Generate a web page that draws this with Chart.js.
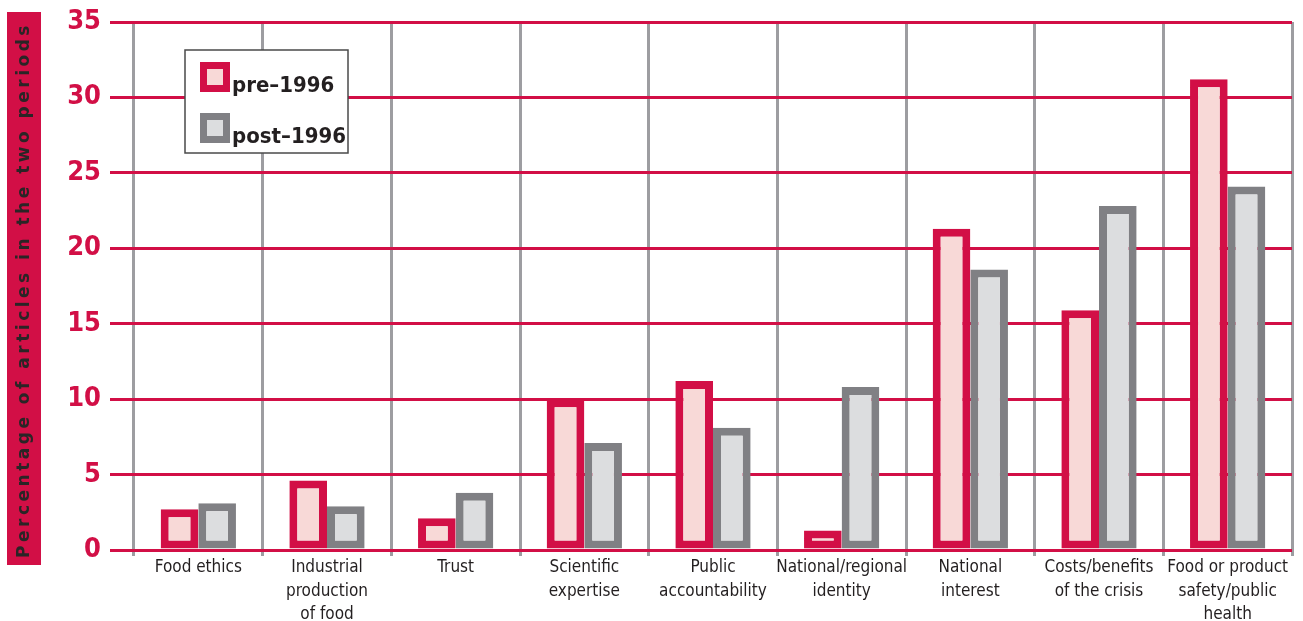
<!DOCTYPE html>
<html>
<head>
<meta charset="utf-8">
<script src="https://cdn.jsdelivr.net/npm/chart.js@4"></script>
<style>
    html, body { margin: 0; padding: 0; background: #fff; }
</style>
</head>
<body>
<canvas id="chartTopics" width="1303" height="621"></canvas>
<script>
// topics covered in articles, before and after 1996 (percent of articles)
const categories = [
    ['Food ethics'],
    ['Industrial', 'production', 'of food'],
    ['Trust'],
    ['Scientific', 'expertise'],
    ['Public', 'accountability'],
    ['National/regional', 'identity'],
    ['National', 'interest'],
    ['Costs/benefits', 'of the crisis'],
    ['Food or product', 'safety/public', 'health']
];
const seriesNames = ['pre–1996', 'post–1996'];
const pre1996 = [2.7, 4.6, 2.1, 10.0, 11.2, 1.3, 21.3, 15.9, 31.2];
const post1996 = [3.1, 2.9, 3.8, 7.1, 8.1, 10.8, 18.6, 22.8, 24.1];
const yMax = 35;
const yStep = 5;
const yTitle = 'Percentage of articles in the two periods';

const COLORS = {
    crimson: '#D20F46',
    pink: '#F8D9D7',
    grey: '#808084',
    lightGrey: '#DCDDDF',
    rule: '#9D9DA1',
    text: '#231f20'
};

// crimson band with the vertical axis title
const yTitleBand = {
    id: 'yTitleBand',
    beforeDraw(chart) {
        const ctx = chart.ctx;
        ctx.save();
        ctx.fillStyle = COLORS.crimson;
        ctx.fillRect(7, 12, 34, 553);
        ctx.translate(25, 290);
        ctx.rotate(-Math.PI / 2);
        ctx.letterSpacing = '3.5px';
        ctx.font = 'bold 17px "DejaVu Sans"';
        ctx.fillStyle = '#2a2526';
        ctx.textAlign = 'center';
        ctx.textBaseline = 'middle';
        ctx.fillText(yTitle, 0, 0);
        ctx.restore();
    }
};

// boxed legend sitting inside the plot area
const boxLegend = {
    id: 'boxLegend',
    afterDraw(chart) {
        const ctx = chart.ctx;
        ctx.save();
        ctx.fillStyle = '#fff';
        ctx.fillRect(185, 50, 163, 103);
        ctx.strokeStyle = '#4a4a4a';
        ctx.lineWidth = 1.5;
        ctx.strokeRect(185, 50, 163, 103);
        chart.data.datasets.forEach((ds, i) => {
            const y = 62 + i * 51;
            ctx.fillStyle = ds.borderColor;
            ctx.fillRect(200, y, 30, 30);
            ctx.fillStyle = ds.backgroundColor;
            ctx.fillRect(207, y + 7, 16, 16);
            ctx.fillStyle = COLORS.text;
            ctx.font = 'bold 22px "DejaVu Sans Condensed"';
            ctx.textBaseline = 'alphabetic';
            ctx.fillText(ds.label, 232, y + 30);
        });
        ctx.restore();
    }
};

const data = {
    labels: categories,
    datasets: [
        {
            label: seriesNames[0],
            data: pre1996,
            backgroundColor: COLORS.pink,
            borderColor: COLORS.crimson,
            borderWidth: 8,
            borderSkipped: false
        }, {
            label: seriesNames[1],
            data: post1996,
            backgroundColor: COLORS.lightGrey,
            borderColor: COLORS.grey,
            borderWidth: 8,
            borderSkipped: false
        }
    ]
};

const config = {
    type: 'bar',
    data: data,
    options: {
        responsive: false,
        animation: false,
        layout: {
            padding: { left: 0, right: 11, top: 22, bottom: 0 }
        },
        datasets: {
            bar: {
                categoryPercentage: 0.585,
                barPercentage: 1.0
            }
        },
        plugins: {
            legend: { display: false },
            tooltip: { enabled: false }
        },
        scales: {
            x: {
                offset: true,
                grid: {
                    offset: true,
                    color: COLORS.rule,
                    lineWidth: 3,
                    tickLength: 6
                },
                border: { display: false },
                ticks: {
                    color: COLORS.text,
                    font: { family: '"DejaVu Sans Condensed"', size: 17, lineHeight: 1.38 },
                    padding: 0,
                    maxRotation: 0,
                    autoSkip: false
                },
                afterFit(scale) { scale.height = 71; }
            },
            y: {
                min: 0,
                max: yMax,
                grid: {
                    color: COLORS.crimson,
                    lineWidth: 3,
                    tickLength: 24
                },
                border: { display: false },
                ticks: {
                    stepSize: yStep,
                    color: COLORS.crimson,
                    font: { family: '"DejaVu Sans Condensed"', size: 27, weight: 'bold' },
                    padding: 9
                },
                afterFit(scale) {
                    scale.width = 134;
                    scale.paddingTop = 0;
                }
            }
        }
    },
    plugins: [yTitleBand, boxLegend]
};

let ctx = document.getElementById('chartTopics').getContext('2d');
new Chart(ctx, config);
</script>
</body>
</html>
